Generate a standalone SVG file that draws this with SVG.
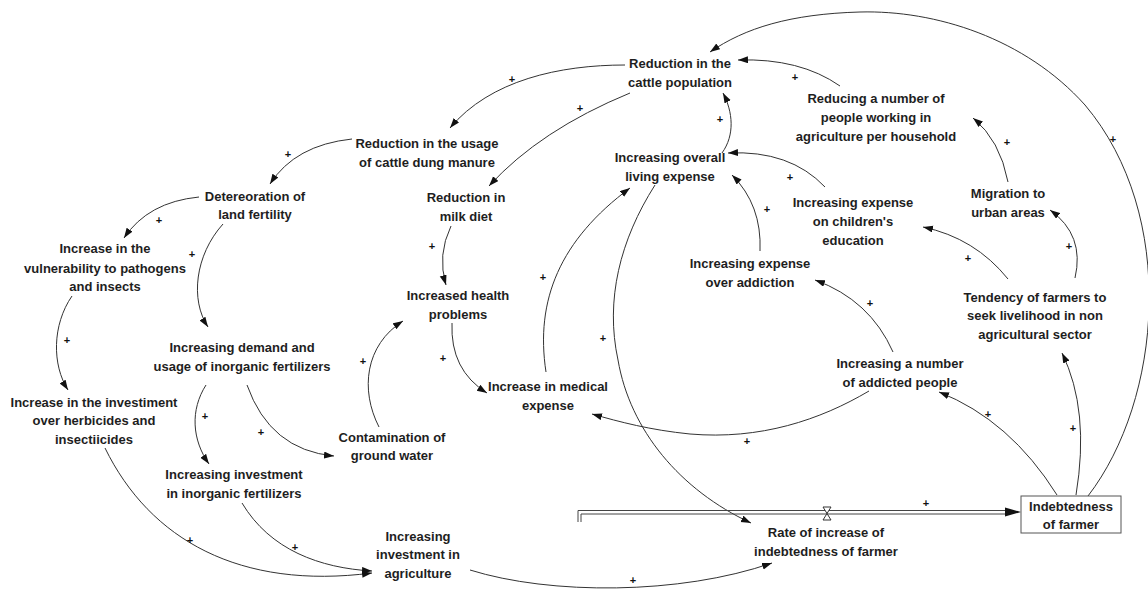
<svg xmlns="http://www.w3.org/2000/svg" width="1148" height="590" viewBox="0 0 1148 590">
<style>
.n{font-family:"Liberation Sans",Arial,sans-serif;font-weight:bold;font-size:13px;text-anchor:middle;fill:#1e1e1e}
.p{font-family:"Liberation Sans",Arial,sans-serif;font-weight:bold;font-size:11px;text-anchor:middle;fill:#111}
.c{fill:none;stroke:#333;stroke-width:1;marker-end:url(#ah)}
.pipe{fill:none;stroke:#444;stroke-width:1}
</style>
<defs>
<marker id="ah" markerUnits="userSpaceOnUse" markerWidth="11" markerHeight="8" refX="10" refY="3.5" orient="auto">
<path d="M0,0 L10,3.5 L0,7 Z" fill="#111"/>
</marker>
</defs>
<rect width="1148" height="590" fill="#fff"/>

<g id="connectors">
<path class="c" d="M1088,496 C1162,400 1178,215 1085,105 C1025,38 935,10 860,12 C790,14 745,28 710,52"/>
<path class="c" d="M840,86 Q800,58 738,60"/>
<path class="c" d="M1008,182 Q1000,140 973,118"/>
<path class="c" d="M1075,278 Q1085,235 1050,210"/>
<path class="c" d="M1008,279 Q975,238 923,227"/>
<path class="c" d="M825,187 Q790,150 728,153"/>
<path class="c" d="M760,251 Q762,205 732,175"/>
<path class="c" d="M722,153 C735,135 733,112 723,93"/>
<path class="c" d="M893,352 Q870,300 815,280"/>
<path class="c" d="M869,391 C820,420 760,440 690,434 C650,430 620,422 592,414"/>
<path class="c" d="M655,185 C620,240 605,300 618,360 C630,430 680,490 751,523"/>
<path class="c" d="M546,372 C535,300 560,240 630,188"/>
<path class="c" d="M452,323 Q450,370 487,393"/>
<path class="c" d="M379,427 C360,390 365,345 403,321"/>
<path class="c" d="M451,226 Q437,255 446,285"/>
<path class="c" d="M630,93 Q540,130 489,186"/>
<path class="c" d="M625,65 C560,65 490,80 450,128"/>
<path class="c" d="M352,139 Q295,145 270,184"/>
<path class="c" d="M199,197 Q148,202 124,238"/>
<path class="c" d="M223,224 C195,255 190,300 208,327"/>
<path class="c" d="M72,296 C52,325 52,365 68,390"/>
<path class="c" d="M206,385 C190,410 192,440 209,464"/>
<path class="c" d="M247,385 Q270,450 334,456"/>
<path class="c" d="M105,448 C150,540 240,590 372,573"/>
<path class="c" d="M242,503 C270,550 320,568 372,571"/>
<path class="c" d="M470,570 C550,595 680,595 772,563"/>
<path class="c" d="M1057,495 Q1010,420 939,392"/>
<path class="c" d="M1076,495 Q1090,410 1062,353"/>
<path class="pipe" d="M578,522 V510.5 H1006"/>
<path class="pipe" d="M581,522 V514 H1006"/>
<path d="M1005,507.5 L1021,512 L1005,516.5 Z" fill="#111"/>
<path d="M823,507 H831 L823,520 H831 Z" fill="#fff" stroke="#333" stroke-width="1"/>
</g>

<g id="polarities">
<text class="p" x="795" y="81">+</text>
<text class="p" x="1007" y="146">+</text>
<text class="p" x="1113" y="143">+</text>
<text class="p" x="1069" y="250">+</text>
<text class="p" x="968" y="262">+</text>
<text class="p" x="790" y="181">+</text>
<text class="p" x="767" y="213">+</text>
<text class="p" x="720" y="123">+</text>
<text class="p" x="580" y="112">+</text>
<text class="p" x="512" y="83">+</text>
<text class="p" x="288" y="158">+</text>
<text class="p" x="159" y="224">+</text>
<text class="p" x="192" y="258">+</text>
<text class="p" x="67" y="344">+</text>
<text class="p" x="205" y="420">+</text>
<text class="p" x="261" y="436">+</text>
<text class="p" x="190" y="544">+</text>
<text class="p" x="295" y="551">+</text>
<text class="p" x="633" y="584">+</text>
<text class="p" x="363" y="365">+</text>
<text class="p" x="443" y="362">+</text>
<text class="p" x="432" y="250">+</text>
<text class="p" x="543" y="281">+</text>
<text class="p" x="603" y="342">+</text>
<text class="p" x="747" y="445">+</text>
<text class="p" x="870" y="307">+</text>
<text class="p" x="988" y="418">+</text>
<text class="p" x="1073" y="432">+</text>
<text class="p" x="926" y="507">+</text>
</g>

<g id="n-cattle"><text class="n" x="680" y="68">Reduction in the</text><text class="n" x="680" y="87">cattle population</text></g>
<g id="n-reducing-people"><text class="n" x="876" y="103">Reducing a number of</text><text class="n" x="876" y="122">people working in</text><text class="n" x="876" y="141">agriculture per household</text></g>
<g id="n-dung"><text class="n" x="427" y="148">Reduction in the usage</text><text class="n" x="427" y="167">of cattle dung manure</text></g>
<g id="n-overall"><text class="n" x="670" y="162">Increasing overall</text><text class="n" x="670" y="181">living expense</text></g>
<g id="n-milk"><text class="n" x="466" y="202">Reduction in</text><text class="n" x="466" y="221">milk diet</text></g>
<g id="n-deter"><text class="n" x="255" y="201">Detereoration of</text><text class="n" x="255" y="219">land fertility</text></g>
<g id="n-migration"><text class="n" x="1008" y="198">Migration to</text><text class="n" x="1008" y="217">urban areas</text></g>
<g id="n-children"><text class="n" x="853" y="207">Increasing expense</text><text class="n" x="853" y="226">on children's</text><text class="n" x="853" y="245">education</text></g>
<g id="n-vuln"><text class="n" x="105" y="253">Increase in the</text><text class="n" x="105" y="273">vulnerability to pathogens</text><text class="n" x="105" y="291">and insects</text></g>
<g id="n-addiction"><text class="n" x="750" y="268">Increasing expense</text><text class="n" x="750" y="287">over addiction</text></g>
<g id="n-health"><text class="n" x="458" y="300">Increased health</text><text class="n" x="458" y="319">problems</text></g>
<g id="n-tendency"><text class="n" x="1035" y="302">Tendency of farmers to</text><text class="n" x="1035" y="320">seek livelihood in non</text><text class="n" x="1035" y="339">agricultural sector</text></g>
<g id="n-demand"><text class="n" x="242" y="352">Increasing demand and</text><text class="n" x="242" y="371">usage of inorganic fertilizers</text></g>
<g id="n-addicted"><text class="n" x="900" y="368">Increasing a number</text><text class="n" x="900" y="387">of addicted people</text></g>
<g id="n-medical"><text class="n" x="548" y="391">Increase in medical</text><text class="n" x="548" y="410">expense</text></g>
<g id="n-herbicide"><text class="n" x="94" y="407">Increase in the investiment</text><text class="n" x="94" y="425">over herbicides and</text><text class="n" x="94" y="444">insectiicides</text></g>
<g id="n-contam"><text class="n" x="392" y="442">Contamination of</text><text class="n" x="392" y="460">ground water</text></g>
<g id="n-inv-inorganic"><text class="n" x="234" y="479">Increasing investment</text><text class="n" x="234" y="498">in inorganic fertilizers</text></g>
<g id="n-rate"><text class="n" x="826" y="537">Rate of increase of</text><text class="n" x="826" y="556">indebtedness of farmer</text></g>
<g id="n-agri"><text class="n" x="418" y="541">Increasing</text><text class="n" x="418" y="559">investment in</text><text class="n" x="418" y="578">agriculture</text></g>
<g id="n-indebt"><rect x="1021" y="496" width="100" height="37" fill="#fff" stroke="#555" stroke-width="1"/><text class="n" x="1071" y="511">Indebtedness</text><text class="n" x="1071" y="529">of farmer</text></g>
</svg>
